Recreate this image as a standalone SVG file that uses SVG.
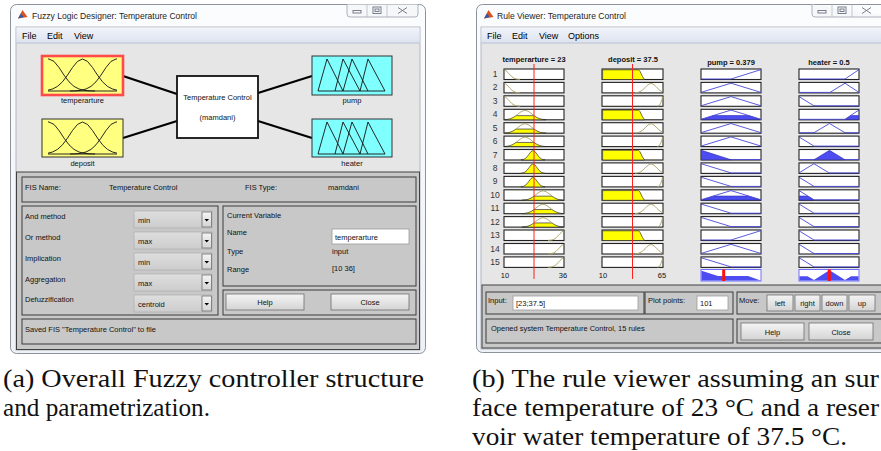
<svg xmlns="http://www.w3.org/2000/svg" width="881" height="451" viewBox="0 0 881 451">
<defs>
<style>
text{font-family:"Liberation Sans",Arial,sans-serif}
.ui{font-size:7.5px;fill:#111}
.ttl{font-size:9.5px;fill:#1e1e1e}
.mn{font-size:9px;fill:#000}
.hd{font-size:7.5px;font-weight:bold;fill:#111;text-anchor:middle}
.num{font-size:8.5px;fill:#333;text-anchor:middle}
.ct{text-anchor:middle}
.cap{font-family:"Liberation Serif","Times New Roman",serif;font-size:24.5px;fill:#111}
.pnl{fill:#c8c8c8;stroke:#3a3a3a;stroke-width:1}
.btn{fill:url(#gBtn);stroke:#6e6e6e;stroke-width:0.8}
.tb{fill:#fff;stroke:#9c9c9c;stroke-width:0.8}
.dd{fill:url(#gDd);stroke:#a8a8a8;stroke-width:0.6}
.bx{fill:#fff;stroke:#222;stroke-width:1.1}
.ol{fill:none;stroke:#aaa160;stroke-width:0.9}
.yf{fill:#ffff00;stroke:#303030;stroke-width:0.7}
.bl{fill:none;stroke:#4848d8;stroke-width:0.9}
.bf{fill:#4c4cf0;stroke:#2a2ab0;stroke-width:0.6}
.ic{fill:none;stroke:#111;stroke-width:0.9;stroke-linejoin:round}
.conn{stroke:#000;stroke-width:2.2}
.wbtn{fill:none;stroke:#6b7280;stroke-width:0.9}
</style>
<linearGradient id="gBtn" x1="0" y1="0" x2="0" y2="1"><stop offset="0" stop-color="#f4f4f4"/><stop offset="1" stop-color="#d4d4d4"/></linearGradient>
<linearGradient id="gDd" x1="0" y1="0" x2="0" y2="1"><stop offset="0" stop-color="#dedede"/><stop offset="1" stop-color="#cdcdcd"/></linearGradient>
<linearGradient id="gMenu" x1="0" y1="0" x2="0" y2="1"><stop offset="0" stop-color="#f2f4fa"/><stop offset="1" stop-color="#dce2ef"/></linearGradient>
<linearGradient id="gTitle" x1="0" y1="0" x2="0" y2="1"><stop offset="0" stop-color="#fbfcfd"/><stop offset="1" stop-color="#eef1f6"/></linearGradient>

<g id="gauss3">
<polyline class="ic" points="48,59 49,59 54,61.4 59,67.5 64,75.1 69,81.8 74,86.4 79,89 84,90.3 89,90.8 95,91"/>
<polyline class="ic" points="48,90.2 52.5,89 57.5,86.4 62.5,81.8 67.5,75.1 72.5,67.5 77.5,61.4 82.5,59 87.5,61.4 92.5,67.5 97.5,75.1 102.5,81.8 107.5,86.4 112.5,89 117,90.2"/>
<polyline class="ic" points="70,91 76,90.8 81,90.3 86,89 91,86.4 96,81.8 101,75.1 106,67.5 111,61.4 116,59 117,59"/>
<line class="ic" x1="48" y1="91" x2="117" y2="91"/>
</g>
<g id="tri4">
<polyline class="ic" points="318,91 327,59 343,91"/>
<polyline class="ic" points="335,91 343,59 360,91"/>
<polyline class="ic" points="343,91 352,59 368,91"/>
<polyline class="ic" points="360,91 368,59 385,91"/>
<line class="ic" x1="318" y1="91" x2="385" y2="91"/>
</g>

<g id="tCold"><rect class="bx" width="60" height="10.5"/><polyline class="ol" points="0.6,1 2,1.73 4,3.6 6,5.87 8,7.86 10,9.21 12,9.97 14,10.31 16,10.44"/></g>
<g id="tMild"><rect class="bx" width="60" height="10.5"/><polygon class="yf" points="0.6,10.5 0.6,10.4 3,10.15 6,9.54 9,8.31 12,6.35 30,6.35 33,8.31 36,9.54 39,10.15 42,10.4 42,10.5"/><polyline class="ol" points="12,6.35 15,3.92 18,1.84 21,1 24,1.84 27,3.92 30,6.35"/></g>
<g id="tWarm"><rect class="bx" width="60" height="10.5"/><polygon class="yf" points="17,10.5 17,10.4 19,10.08 21,9.21 23,7.41 25,4.74 27,2.12 28.3,1.3 29.7,1.3 31,2.12 33,4.74 35,7.41 37,9.21 39,10.08 41,10.4 41,10.5"/></g>
<g id="tWarm2"><rect class="bx" width="60" height="10.5"/><polygon class="yf" points="18,10.5 18,10.4 21,10.15 24,9.54 27,8.31 30,6.35 48,6.35 51,8.31 54,9.54 57,10.15 59.4,10.4 59.4,10.5"/><polyline class="ol" points="30,6.35 33,3.92 36,1.84 39,1 42,1.84 45,3.92 48,6.35"/></g>
<g id="tHot"><rect class="bx" width="60" height="10.5"/><polyline class="ol" points="44,10.44 46,10.31 48,9.97 50,9.21 52,7.86 54,5.87 56,3.6 58,1.73 59.4,1"/></g>
<g id="dLow"><rect class="bx" width="61" height="10.5"/><polygon class="yf" points="0.6,0.8 36.5,0.8 38,2.3 40.5,7.5 42.5,10.5 0.6,10.5"/></g>
<g id="dMid"><rect class="bx" width="61" height="10.5"/><polyline class="ol" points="33,10.36 35,10.13 37,9.62 39,8.68 41,7.2 43,5.26 45,3.2 47,1.61 49,1 51,1.61 53,3.2 55,5.26 57,7.2 59,8.68 60.5,9.5"/></g>
<g id="dHigh"><rect class="bx" width="61" height="10.5"/><polyline class="ol" points="55.5,10.4 57.5,9.5 59,6.5 60,3.5 60.5,1"/></g>
<g id="pHigh"><rect class="bx" width="60" height="10.5"/><polyline class="bl" points="0,10 30,10 60,0.6"/></g>
<g id="pMid"><rect class="bx" width="60" height="10.5"/><polyline class="bl" points="0,10 30,0.8 60,10"/></g>
<g id="pLow"><rect class="bx" width="60" height="10.5"/><polyline class="bl" points="0,0.8 30,10 60,10"/></g>
<g id="pMidF"><rect class="bx" width="60" height="10.5"/><polygon class="bf" points="0.5,10.2 13.1,6.26 46.9,6.26 59.5,10.2"/><polyline class="bl" points="0,10 30,0.8 60,10"/></g>
<g id="pLowF"><rect class="bx" width="60" height="10.5"/><polygon class="bf" points="0.5,1.1 1.4,1.1 30,10.2 0.5,10.2"/><polyline class="bl" points="30,10 60,10"/></g>
<g id="hHigh"><rect class="bx" width="60" height="10.5"/><polyline class="bl" points="0,10 46,10 60,0.6"/></g>
<g id="hMidHigh"><rect class="bx" width="60" height="10.5"/><polyline class="bl" points="0,10 31,10 46,0.8 60,10"/></g>
<g id="hLow"><rect class="bx" width="60" height="10.5"/><polyline class="bl" points="0,0.8 15,10 60,10"/></g>
<g id="hMid"><rect class="bx" width="60" height="10.5"/><polyline class="bl" points="0,10 15,10 30.5,0.8 46,10 60,10"/></g>
<g id="hMidLow"><rect class="bx" width="60" height="10.5"/><polyline class="bl" points="0,10 15,0.8 30,10 60,10"/></g>
<g id="hHighF"><rect class="bx" width="60" height="10.5"/><polygon class="bf" points="46,10.2 52.1,6.26 59.5,6.26 59.5,10.2"/><polyline class="bl" points="0,10 46,10 60,0.6"/></g>
<g id="hMidF"><rect class="bx" width="60" height="10.5"/><polygon class="bf" points="15,10.2 30,1.1 31,1.1 46,10.2"/><polyline class="bl" points="0,10 15,10"/><line class="bl" x1="46" y1="10" x2="60" y2="10"/></g>
<g id="hLowF"><rect class="bx" width="60" height="10.5"/><polygon class="bf" points="0.5,10.2 0.5,6.26 8.4,6.26 15,10.2"/><polyline class="bl" points="0,0.8 15,10 60,10"/></g>
</defs>

<rect width="881" height="451" fill="#fff"/>

<g id="window-a">
<rect x="10.5" y="4.5" width="415" height="349" rx="6" fill="url(#gTitle)" stroke="#8d939c"/>
<rect x="16" y="27" width="404" height="323" fill="#e6e6e6" stroke="#a4aab4" stroke-width="0.8"/>
<rect x="16.5" y="27.5" width="403" height="15.5" fill="url(#gMenu)"/>
<line x1="16.5" y1="43" x2="419.5" y2="43" stroke="#b8c0d0"/>
<polygon points="18,18.5 22.5,10 27.5,17" fill="#d9531e"/>
<polygon points="18,18.5 21,13.5 23.5,17" fill="#2a5caa"/>
<text class="ttl" x="32" y="19" textLength="165" lengthAdjust="spacingAndGlyphs">Fuzzy Logic Designer: Temperature Control</text>
<path d="M347,4.5 V14 a3,3 0 0 0 3,3 H415 a3,3 0 0 0 3,-3 V4.5" fill="#f6f7f9" stroke="#9aa1ad" stroke-width="0.8"/>
<line x1="367" y1="4.5" x2="367" y2="17" stroke="#b5bbc5" stroke-width="0.8"/>
<line x1="387" y1="4.5" x2="387" y2="17" stroke="#b5bbc5" stroke-width="0.8"/>
<rect class="wbtn" x="353" y="10.5" width="8" height="2.5"/>
<rect class="wbtn" x="373" y="7" width="8" height="6.5"/><rect class="wbtn" x="375" y="9" width="4" height="2.5"/>
<path class="wbtn" d="M398,7.5 l9,6 M407,7.5 l-9,6" stroke-width="1.4"/>
<text class="mn" x="22" y="39">File</text>
<text class="mn" x="47" y="39">Edit</text>
<text class="mn" x="74" y="39">View</text>

<g id="connectors-a">
<line class="conn" x1="123" y1="76" x2="177" y2="94"/>
<line class="conn" x1="123" y1="138" x2="177" y2="121"/>
<line class="conn" x1="258" y1="93" x2="312" y2="76"/>
<line class="conn" x1="258" y1="121" x2="312" y2="138"/>
</g>
<g id="node-temperarture">
<rect x="42" y="56" width="81" height="39" fill="#ffff80" stroke="#ff4a4a" stroke-width="2.6"/>
<use href="#gauss3"/>
<text class="ui ct" x="82.5" y="103">temperarture</text>
</g>
<g id="node-deposit">
<rect x="42" y="119" width="81" height="38" fill="#ffff80" stroke="#333" stroke-width="1"/>
<use href="#gauss3" transform="translate(0,63)"/>
<text class="ui ct" x="82.5" y="166">deposit</text>
</g>
<g id="node-controller">
<rect x="177" y="76" width="81" height="62" fill="#fff" stroke="#111" stroke-width="1.8"/>
<text class="ui ct" x="217.5" y="99.5">Temperature Control</text>
<text class="ui ct" x="217.5" y="120">(mamdani)</text>
</g>
<g id="node-pump">
<rect x="312" y="56" width="80" height="39" fill="#80ffff" stroke="#333" stroke-width="1"/>
<use href="#tri4"/>
<text class="ui ct" x="352" y="103">pump</text>
</g>
<g id="node-heater">
<rect x="312" y="119" width="80" height="38" fill="#80ffff" stroke="#333" stroke-width="1"/>
<use href="#tri4" transform="translate(0,63)"/>
<text class="ui ct" x="352" y="166">heater</text>
</g>

<g id="panels-a">
<rect x="16.5" y="172" width="403" height="177.5" fill="#c8c8c8" stroke="#404040"/>
<rect class="pnl" x="22" y="177" width="394" height="25"/>
<text class="ui" x="25" y="189.5">FIS Name:</text>
<text class="ui" x="109" y="189.5">Temperature Control</text>
<text class="ui" x="245" y="189.5">FIS Type:</text>
<text class="ui" x="328" y="189.5">mamdani</text>

<rect class="pnl" x="22" y="206" width="196" height="109"/>
<text class="ui" x="25" y="218.5">And method</text>
<text class="ui" x="25" y="239.5">Or method</text>
<text class="ui" x="25" y="260.5">Implication</text>
<text class="ui" x="25" y="281.5">Aggregation</text>
<text class="ui" x="25" y="302">Defuzzification</text>
<g id="dropdowns">
<rect class="dd" x="134" y="211" width="78" height="17"/><rect class="btn" x="202" y="212" width="9.5" height="15"/><polygon points="204.5,219 209,219 206.75,221.5"/><text class="ui" x="138" y="223">min</text>
<rect class="dd" x="134" y="232" width="78" height="17"/><rect class="btn" x="202" y="233" width="9.5" height="15"/><polygon points="204.5,240 209,240 206.75,242.5"/><text class="ui" x="138" y="244">max</text>
<rect class="dd" x="134" y="253" width="78" height="17"/><rect class="btn" x="202" y="254" width="9.5" height="15"/><polygon points="204.5,261 209,261 206.75,263.5"/><text class="ui" x="138" y="265">min</text>
<rect class="dd" x="134" y="274" width="78" height="17"/><rect class="btn" x="202" y="275" width="9.5" height="15"/><polygon points="204.5,282 209,282 206.75,284.5"/><text class="ui" x="138" y="286">max</text>
<rect class="dd" x="134" y="295" width="78" height="17"/><rect class="btn" x="202" y="296" width="9.5" height="15"/><polygon points="204.5,303 209,303 206.75,305.5"/><text class="ui" x="138" y="307">centroid</text>
</g>

<rect class="pnl" x="223" y="206" width="193" height="80"/>
<text class="ui" x="227" y="218">Current Variable</text>
<text class="ui" x="227" y="235">Name</text>
<rect class="tb" x="332" y="229" width="77" height="15"/>
<text class="ui" x="335" y="239.5">temperarture</text>
<text class="ui" x="227" y="254">Type</text>
<text class="ui" x="332" y="253.5">input</text>
<text class="ui" x="227" y="271.5">Range</text>
<text class="ui" x="332" y="271">[10 36]</text>

<rect class="pnl" x="223" y="290" width="193" height="25"/>
<rect class="btn" x="226" y="294" width="78" height="16"/>
<text class="ui ct" x="265" y="305">Help</text>
<rect class="btn" x="331" y="294" width="78" height="16"/>
<text class="ui ct" x="370" y="305">Close</text>

<rect class="pnl" x="22" y="319" width="394" height="25"/>
<text class="ui" x="25" y="332">Saved FIS "Temperature Control" to file</text>
</g>
</g>

<g id="window-b">
<rect x="476.5" y="4.5" width="420" height="348" rx="6" fill="url(#gTitle)" stroke="#8d939c"/>
<rect x="481" y="27" width="410" height="322" fill="#e6e6e6" stroke="#a4aab4" stroke-width="0.8"/>
<rect x="481.5" y="27.5" width="400" height="15.5" fill="url(#gMenu)"/>
<line x1="481.5" y1="43" x2="881" y2="43" stroke="#b8c0d0"/>
<polygon points="484,18.5 488.5,10 493.5,17" fill="#d9531e"/>
<polygon points="484,18.5 487,13.5 489.5,17" fill="#2a5caa"/>
<text class="ttl" x="497" y="19" textLength="129" lengthAdjust="spacingAndGlyphs">Rule Viewer: Temperature Control</text>
<path d="M812,4.5 V14 a3,3 0 0 0 3,3 H895" fill="#f6f7f9" stroke="#9aa1ad" stroke-width="0.8"/>
<line x1="832" y1="4.5" x2="832" y2="17" stroke="#b5bbc5" stroke-width="0.8"/>
<line x1="852" y1="4.5" x2="852" y2="17" stroke="#b5bbc5" stroke-width="0.8"/>
<rect class="wbtn" x="818" y="10.5" width="8" height="2.5"/>
<rect class="wbtn" x="838" y="7" width="8" height="6.5"/><rect class="wbtn" x="840" y="9" width="4" height="2.5"/>
<path class="wbtn" d="M862,7.5 l9,6 M871,7.5 l-9,6" stroke-width="1.4"/>
<text class="mn" x="487" y="39">File</text>
<text class="mn" x="512" y="39">Edit</text>
<text class="mn" x="539" y="39">View</text>
<text class="mn" x="568" y="39">Options</text>

<text class="hd" x="534" y="62">temperarture = 23</text>
<text class="hd" x="633" y="62">deposit = 37.5</text>
<text class="hd" x="731" y="65">pump = 0.379</text>
<text class="hd" x="829" y="65">heater = 0.5</text>

<g id="rules">
<g transform="translate(0,69)"><text class="num" x="495" y="8">1</text><use href="#tCold" x="504"/><use href="#dLow" x="602"/><use href="#pHigh" x="701"/><use href="#hHigh" x="799"/></g>
<g transform="translate(0,82.4)"><text class="num" x="495" y="8">2</text><use href="#tCold" x="504"/><use href="#dMid" x="602"/><use href="#pMid" x="701"/><use href="#hMidHigh" x="799"/></g>
<g transform="translate(0,95.8)"><text class="num" x="495" y="8">3</text><use href="#tCold" x="504"/><use href="#dHigh" x="602"/><use href="#pMid" x="701"/><use href="#hLow" x="799"/></g>
<g transform="translate(0,109.3)"><text class="num" x="495" y="8">4</text><use href="#tMild" x="504"/><use href="#dLow" x="602"/><use href="#pMidF" x="701"/><use href="#hHighF" x="799"/></g>
<g transform="translate(0,122.7)"><text class="num" x="495" y="8">5</text><use href="#tMild" x="504"/><use href="#dMid" x="602"/><use href="#pMid" x="701"/><use href="#hMid" x="799"/></g>
<g transform="translate(0,136.1)"><text class="num" x="495" y="8">6</text><use href="#tMild" x="504"/><use href="#dHigh" x="602"/><use href="#pMid" x="701"/><use href="#hLow" x="799"/></g>
<g transform="translate(0,149.5)"><text class="num" x="495" y="8">7</text><use href="#tWarm" x="504"/><use href="#dLow" x="602"/><use href="#pLowF" x="701"/><use href="#hMidF" x="799"/></g>
<g transform="translate(0,162.9)"><text class="num" x="495" y="8">8</text><use href="#tWarm" x="504"/><use href="#dMid" x="602"/><use href="#pLow" x="701"/><use href="#hMidLow" x="799"/></g>
<g transform="translate(0,176.4)"><text class="num" x="495" y="8">9</text><use href="#tWarm" x="504"/><use href="#dHigh" x="602"/><use href="#pLow" x="701"/><use href="#hLow" x="799"/></g>
<g transform="translate(0,189.8)"><text class="num" x="495" y="8">10</text><use href="#tWarm2" x="504"/><use href="#dLow" x="602"/><use href="#pMidF" x="701"/><use href="#hLowF" x="799"/></g>
<g transform="translate(0,203.2)"><text class="num" x="495" y="8">11</text><use href="#tWarm2" x="504"/><use href="#dMid" x="602"/><use href="#pLow" x="701"/><use href="#hLow" x="799"/></g>
<g transform="translate(0,216.6)"><text class="num" x="495" y="8">12</text><use href="#tWarm2" x="504"/><use href="#dHigh" x="602"/><use href="#pLow" x="701"/><use href="#hLow" x="799"/></g>
<g transform="translate(0,230)"><text class="num" x="495" y="8">13</text><use href="#tHot" x="504"/><use href="#dLow" x="602"/><use href="#pHigh" x="701"/><use href="#hLow" x="799"/></g>
<g transform="translate(0,243.5)"><text class="num" x="495" y="8">14</text><use href="#tHot" x="504"/><use href="#dMid" x="602"/><use href="#pMid" x="701"/><use href="#hLow" x="799"/></g>
<g transform="translate(0,256.9)"><text class="num" x="495" y="8">15</text><use href="#tHot" x="504"/><use href="#dHigh" x="602"/><use href="#pLow" x="701"/><use href="#hLow" x="799"/></g>
</g>

<g id="aggregate">
<rect x="701" y="269.5" width="60" height="11.5" fill="#fff" stroke="#7070ff" stroke-width="1"/>
<polygon points="701.5,280.5 701.5,270.8 718,275.9 748,275.9 760.5,280.5" fill="#4c4cf0"/>
<rect x="722.2" y="269.5" width="3" height="11.5" fill="#ff1010"/>
<rect x="799" y="269.5" width="60" height="11.5" fill="#fff" stroke="#7070ff" stroke-width="1"/>
<polygon points="799.5,280.5 799.5,276.2 807.4,276.2 814,280 829,270.6 830,270.6 845,280 851.1,276.2 858.5,276.2 858.5,280.5" fill="#4c4cf0"/>
<rect x="827.8" y="269.5" width="3" height="11.5" fill="#ff1010"/>
<g fill="#4848d8"><rect x="700.5" y="285.5" width="1.2" height="1.5"/><rect x="760.5" y="285.5" width="1.2" height="1.5"/><rect x="798.5" y="285.5" width="1.2" height="1.5"/><rect x="858.5" y="285.5" width="1.2" height="1.5"/></g>
</g>

<line x1="534" y1="64" x2="534" y2="279" stroke="#ff2020" stroke-width="1"/>
<line x1="632.5" y1="64" x2="632.5" y2="279" stroke="#ff2020" stroke-width="1"/>
<text class="ui ct" x="505" y="278">10</text>
<text class="ui ct" x="563" y="278">36</text>
<text class="ui ct" x="603" y="278">10</text>
<text class="ui ct" x="662" y="278">65</text>

<g id="panels-b">
<rect x="482" y="285" width="410" height="63" fill="#c8c8c8" stroke="#404040"/>
<rect class="pnl" x="486" y="292" width="158" height="22"/>
<text class="ui" x="488" y="302.5">Input:</text>
<rect class="tb" x="513" y="296" width="125" height="14"/>
<text class="ui" x="516" y="306">[23;37.5]</text>
<rect class="pnl" x="645" y="292" width="88" height="22"/>
<text class="ui" x="648" y="302.5">Plot points:</text>
<rect class="tb" x="697" y="296" width="31" height="14"/>
<text class="ui" x="700" y="306">101</text>
<rect class="pnl" x="737" y="292" width="155" height="22"/>
<text class="ui" x="739" y="302.5">Move:</text>
<rect class="btn" x="767" y="295" width="26" height="16"/><text class="ui ct" x="780" y="306">left</text>
<rect class="btn" x="795" y="295" width="25" height="16"/><text class="ui ct" x="807.5" y="306">right</text>
<rect class="btn" x="822" y="295" width="25" height="16"/><text class="ui ct" x="834.5" y="306">down</text>
<rect class="btn" x="849" y="295" width="26" height="16"/><text class="ui ct" x="862" y="306">up</text>
<rect class="pnl" x="486" y="319" width="247" height="24"/>
<text class="ui" x="491" y="331">Opened system Temperature Control, 15 rules</text>
<rect class="pnl" x="737" y="319" width="155" height="24"/>
<rect class="btn" x="741" y="323" width="63" height="17"/><text class="ui ct" x="772.5" y="334.5">Help</text>
<rect class="btn" x="809" y="323" width="64" height="17"/><text class="ui ct" x="841" y="334.5">Close</text>
</g>
</g>

<g id="captions">
<text class="cap" x="3" y="387" textLength="421" lengthAdjust="spacingAndGlyphs">(a) Overall Fuzzy controller structure</text>
<text class="cap" x="3" y="416" textLength="207" lengthAdjust="spacingAndGlyphs">and parametrization.</text>
<text class="cap" x="472" y="387" textLength="407" lengthAdjust="spacingAndGlyphs">(b) The rule viewer assuming an sur</text>
<text class="cap" x="472" y="416" textLength="407" lengthAdjust="spacingAndGlyphs">face temperature of 23 °C and a reser</text>
<text class="cap" x="472" y="445" textLength="375" lengthAdjust="spacingAndGlyphs">voir water temperature of 37.5 °C.</text>
</g>
</svg>
